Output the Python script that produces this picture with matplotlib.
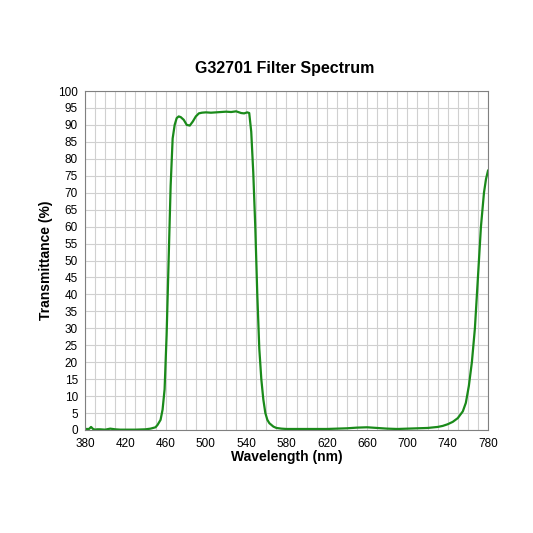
import matplotlib
matplotlib.use("Agg")
import matplotlib.pyplot as plt
import numpy as np

wavelength = [380,384,386,388,390,392,395,400,405,410,415,420,430,440,445,450,452,455,457,459,461,463,465,467,469,471,473,475,478,481,484,487,490,493,496,500,505,510,515,520,525,530,535,538,541,543,545,547,549,551,553,555,557,559,561,563,565,567,570,575,580,590,600,620,640,650,660,670,680,690,700,710,720,730,735,740,745,750,755,758,761,764,767,770,773,776,778,780]
transmission = [0.3,0.3,0.9,0.3,0.1,0.2,0.2,0.1,0.4,0.2,0.1,0.1,0.1,0.2,0.4,0.8,1.5,3,6,12,28,50,72,86,90,92,92.5,92.3,91.5,90,89.8,91,92.5,93.4,93.6,93.7,93.6,93.7,93.8,93.9,93.8,94,93.5,93.4,93.7,93.5,88,76,60,40,24,15,9,5,3,2,1.5,1,0.6,0.4,0.3,0.3,0.3,0.3,0.5,0.7,0.8,0.6,0.4,0.3,0.4,0.5,0.6,0.9,1.2,1.7,2.4,3.5,5.5,8,13,20,30,45,60,70,74,76.5]

fig = plt.figure(figsize=(5.33,5.33), dpi=100)
ax = fig.add_axes([85/533, 1-430/533, 403/533, 339/533])
ax.plot(wavelength, transmission, color="#1a8a1a", lw=1.6)
ax.set_xlim(380,780); ax.set_ylim(0,100)
ax.set_xticks(range(380,781,40)); ax.set_xticks(range(380,781,10), minor=True)
ax.set_yticks(range(0,101,5))
ax.grid(True, which="both", color="#d0d0d0", lw=0.8)
ax.set_axisbelow(True)
ax.tick_params(which="both", length=0, labelsize=8.5)
ax.tick_params(axis="x", pad=6)
ax.tick_params(axis="y", pad=5)
for s in ax.spines.values(): s.set_color("#808080"); s.set_linewidth(0.8)
ax.set_xlabel("Wavelength (nm)", fontsize=10, fontweight="bold", family="Liberation Sans", labelpad=0)
ax.set_ylabel("Transmittance (%)", fontsize=10, fontweight="bold", family="Liberation Sans")
for l in ax.get_xticklabels()+ax.get_yticklabels(): l.set_family("Liberation Sans")
fig.text(0.535, 1-68/533, "G32701 Filter Spectrum", ha="center", va="center", fontsize=11.5, fontweight="bold", family="Liberation Sans")
fig.savefig("out.png", dpi=100)
